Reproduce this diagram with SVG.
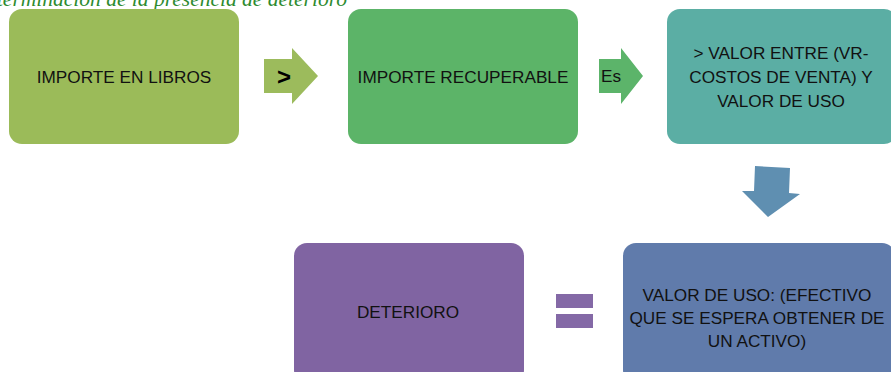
<svg xmlns="http://www.w3.org/2000/svg" width="891" height="372" viewBox="0 0 891 372">
<style>
.t{font-family:"Liberation Sans",Arial,sans-serif;font-size:17.2px;fill:#111;text-anchor:middle;dominant-baseline:central}
.cap{font-family:"Liberation Serif","Times New Roman",serif;font-style:italic;font-size:21.5px;fill:#2E8B30}
</style>
<rect width="891" height="372" fill="#ffffff"/>
<text class="cap" x="347" y="6" text-anchor="end">Determinación de la presencia de deterioro</text>
<g id="n1">
<rect x="9" y="9" width="230" height="135" rx="13" fill="#9BBB59"/>
<text class="t" x="124" y="77">IMPORTE EN LIBROS</text>
</g>
<g id="n2">
<rect x="348" y="9" width="230" height="135" rx="13" fill="#5CB468"/>
<text class="t" x="463" y="77">IMPORTE RECUPERABLE</text>
</g>
<g id="n3">
<rect x="667" y="9" width="230" height="135" rx="13" fill="#5BAEA4"/>
<text class="t" x="781" y="53">&gt; VALOR ENTRE (VR-</text>
<text class="t" x="781" y="77">COSTOS DE VENTA) Y</text>
<text class="t" x="781" y="101">VALOR DE USO</text>
</g>
<g id="n4">
<rect x="294" y="243" width="230" height="140" rx="13" fill="#8064A2"/>
<text class="t" x="408" y="312">DETERIORO</text>
</g>
<g id="n5">
<rect x="623" y="243" width="272" height="140" rx="13" fill="#607BAB"/>
<text class="t" x="757" y="295">VALOR DE USO: (EFECTIVO</text>
<text class="t" x="757" y="318">QUE SE ESPERA OBTENER DE</text>
<text class="t" x="757" y="341">UN ACTIVO)</text>
</g>
<g id="connectors">
<g id="c1">
<polygon points="264,59 292,59 292,48 318,76 292,104 292,93 264,93" fill="#9CBB5C"/>
<text x="284" y="76" font-family="Liberation Sans,Arial,sans-serif" font-size="24" font-weight="bold" fill="#000" text-anchor="middle" dominant-baseline="central">&gt;</text>
</g>
<g id="c2">
<polygon points="599,59 621,59 621,48 643,76 621,104 621,93 599,93" fill="#5CB46A"/>
<text class="t" x="611" y="76">Es</text>
</g>
<g id="c3">
<polygon points="755,166 790,168 789,193 800,194 768,217 742,191 754,191" fill="#5F8FB1"/>
</g>
<g id="c4">
<rect x="556" y="294" width="37" height="14" fill="#8469A6"/>
<rect x="556" y="314" width="37" height="14" fill="#8469A6"/>
</g>
</g>
</svg>
